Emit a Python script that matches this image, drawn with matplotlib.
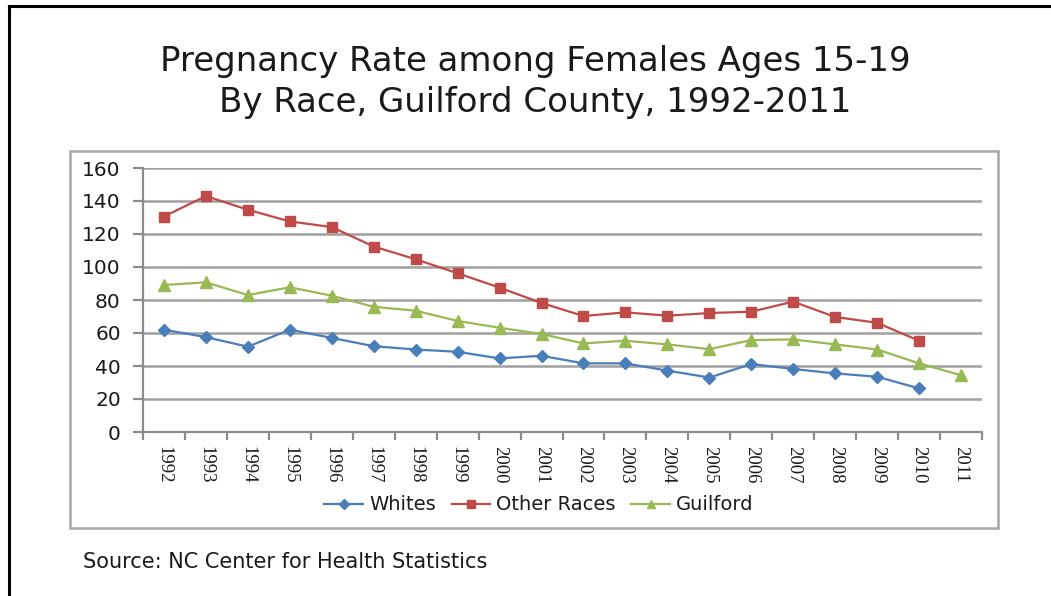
import matplotlib
matplotlib.use("Agg")
import matplotlib.pyplot as plt
from matplotlib.patches import Rectangle
from matplotlib.lines import Line2D
import numpy as np

years = ["1992", "1993", "1994", "1995", "1996", "1997", "1998", "1999", "2000", "2001",
         "2002", "2003", "2004", "2005", "2006", "2007", "2008", "2009", "2010", "2011"]
whites = [62, 57.5, 51.7, 62, 57, 52, 50, 48.6, 44.6, 46.2,
          41.6, 41.6, 37.2, 33, 41.2, 38.2, 35.5, 33.5, 26.4, None]
other_races = [130.6, 143, 134.7, 127.6, 124.2, 112.4, 104.7, 96.2, 87.5, 78.2,
               70.3, 72.5, 70.5, 72.1, 72.9, 79, 69.7, 66.2, 55.3, None]
guilford = [89.1, 90.7, 83, 87.7, 82.6, 75.9, 73.5, 67.3, 63.2, 59.4,
            53.7, 55.3, 53.1, 50.2, 55.7, 56.1, 53.1, 50, 41.6, 34.4]

title = "Pregnancy Rate among Females Ages 15-19\nBy Race, Guilford County, 1992-2011"
source = "Source: NC Center for Health Statistics"

W, H = 1051, 596
fig = plt.figure(figsize=(W / 100, H / 100), dpi=100)
fig.patch.set_facecolor("white")

def fx(px):
    return px / W

def fy(py):
    return 1 - py / H

# outer black frame (top and left only)
fig.add_artist(Line2D([fx(9), 1.0], [fy(6), fy(6)], color="black", lw=2.2))
fig.add_artist(Line2D([fx(9), fx(9)], [fy(6), 0], color="black", lw=2.2))

# inner chart frame
fig.add_artist(Rectangle((fx(70), fy(528)), fx(998) - fx(70), fy(151) - fy(528),
                         fill=False, edgecolor="#A6A6A6", lw=1.8))

ax = fig.add_axes([fx(143), fy(432), fx(982) - fx(143), fy(168) - fy(432)])

x = np.arange(len(years))

def arr(v):
    return np.array([np.nan if a is None else a for a in v], dtype=float)

c_w, c_o, c_g = "#4A7EBB", "#BE4B48", "#98B954"
ax.plot(x, arr(whites), color=c_w, lw=1.6, marker="D", ms=6.5, label="Whites")
ax.plot(x, arr(other_races), color=c_o, lw=1.6, marker="s", ms=7.5, label="Other Races")
ax.plot(x, arr(guilford), color=c_g, lw=1.6, marker="^", ms=8, label="Guilford")

ax.set_xlim(-0.5, len(years) - 0.5)
ax.set_ylim(0, 160)
ax.set_yticks(np.arange(0, 161, 20))
ax.yaxis.grid(True, color="#A0A0A0", lw=1.8)
ax.set_axisbelow(True)
for s in ["top", "right"]:
    ax.spines[s].set_visible(False)
for s in ["left", "bottom"]:
    ax.spines[s].set_color("#8C8C8C")
    ax.spines[s].set_linewidth(1.6)

ax.set_xticks(x)
ax.set_xticklabels(years, rotation=-90, fontsize=13.5, family="Liberation Serif", color="#1A1A1A")
ax.set_xticks(np.arange(-0.5, len(years), 1), minor=True)
ax.tick_params(axis="x", which="major", length=0, pad=10)
ax.tick_params(axis="x", which="minor", length=6, width=1.6, color="#8C8C8C")
ax.tick_params(axis="y", length=7, width=1.6, color="#8C8C8C", labelsize=14.5, pad=9,
               labelcolor="#1A1A1A")
for t in ax.get_yticklabels():
    t.set_family("DejaVu Sans")

leg = ax.legend(loc="center", bbox_to_anchor=((fx(539) - fx(143)) / (fx(982) - fx(143)),
                (fy(505) - fy(432)) / (fy(168) - fy(432))),
                ncol=3, frameon=False, handlelength=2.0, columnspacing=0.8,
                handletextpad=0.3, prop={"family": "DejaVu Sans", "size": 14})
for h in leg.legend_handles:
    h.set_markersize(5.5)
for t in leg.get_texts():
    t.set_color("#1A1A1A")

fig.text(fx(535), fy(82), title, ha="center", va="center", fontsize=24.5,
         family="DejaVu Sans", color="#1A1A1A", linespacing=1.32)
fig.text(fx(83), fy(562), source, ha="left", va="center", fontsize=15,
         family="DejaVu Sans", color="#1A1A1A")

fig.savefig("out.png", dpi=100)
